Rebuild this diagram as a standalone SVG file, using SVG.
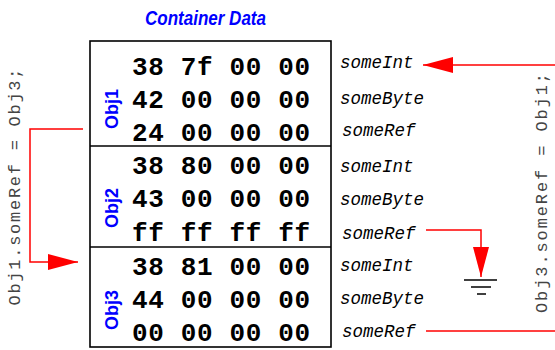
<svg xmlns="http://www.w3.org/2000/svg" width="555" height="350" viewBox="0 0 555 350">
  <defs>
    <style>
      .title { font-family: "Liberation Sans", Arial, sans-serif; font-weight: bold; font-style: italic; font-size: 21px; fill: #0000ff; }
      .hex { font-family: "Liberation Mono", "Courier New", monospace; font-weight: bold; font-size: 26px; fill: #000; }
      .obj { font-family: "Liberation Sans", Arial, sans-serif; font-weight: bold; font-size: 18px; fill: #0000ff; text-anchor: middle; }
      .field { font-family: "Liberation Mono", "Courier New", monospace; font-style: italic; font-size: 17.5px; fill: #000; }
      .code { font-family: "Liberation Mono", "Courier New", monospace; font-size: 17px; fill: #444; text-anchor: middle; }
      .box { fill: none; stroke: #000; stroke-width: 1.6; }
      .wire { fill: none; stroke: #ff0000; stroke-width: 1.5; }
      .ground { stroke: #000; stroke-width: 1.5; }
    </style>
    <marker id="arrow" viewBox="0 0 30 16" refX="30" refY="8" markerWidth="30" markerHeight="16" markerUnits="userSpaceOnUse" orient="auto">
      <path d="M0,0 L30,8 L0,16 Z" fill="#ff0000"/>
    </marker>
  </defs>

  <text class="title" x="145" y="25" textLength="121" lengthAdjust="spacingAndGlyphs">Container Data</text>

  <!-- memory block -->
  <g id="container">
    <rect class="box" x="90" y="41" width="241" height="306"/>
    <line class="box" x1="90" y1="146" x2="331" y2="146"/>
    <line class="box" x1="90" y1="247" x2="331" y2="247"/>
  </g>

  <g id="obj1">
    <text class="obj" transform="translate(118,109) rotate(-90)">Obj1</text>
    <text class="hex" x="132" y="75" textLength="178">38 7f 00 00</text>
    <text class="hex" x="132" y="108" textLength="178">42 00 00 00</text>
    <text class="hex" x="132" y="141" textLength="178">24 00 00 00</text>
    <text class="field" x="340" y="68">someInt</text>
    <text class="field" x="340" y="104">someByte</text>
    <text class="field" x="342" y="136">someRef</text>
  </g>

  <g id="obj2">
    <text class="obj" transform="translate(118,208) rotate(-90)">Obj2</text>
    <text class="hex" x="132" y="174" textLength="178">38 80 00 00</text>
    <text class="hex" x="132" y="207" textLength="178">43 00 00 00</text>
    <text class="hex" x="132" y="241" textLength="178">ff ff ff ff</text>
    <text class="field" x="340" y="172">someInt</text>
    <text class="field" x="340" y="205">someByte</text>
    <text class="field" x="342" y="239">someRef</text>
  </g>

  <g id="obj3">
    <text class="obj" transform="translate(118,310) rotate(-90)">Obj3</text>
    <text class="hex" x="132" y="275" textLength="178">38 81 00 00</text>
    <text class="hex" x="132" y="308" textLength="178">44 00 00 00</text>
    <text class="hex" x="132" y="341" textLength="178">00 00 00 00</text>
    <text class="field" x="340" y="271">someInt</text>
    <text class="field" x="340" y="304">someByte</text>
    <text class="field" x="342" y="337">someRef</text>
  </g>

  <!-- assignment captions -->
  <g id="assign-left">
    <text class="code" transform="translate(20,187) rotate(-90)" textLength="237" lengthAdjust="spacing">Obj1.someRef = Obj3;</text>
  </g>
  <g id="assign-right">
    <text class="code" transform="translate(547,193) rotate(-90)" textLength="240" lengthAdjust="spacing">Obj3.someRef = Obj1;</text>
  </g>

  <!-- null reference ground -->
  <g id="null">
    <line class="ground" x1="464" y1="280" x2="497" y2="280"/>
    <line class="ground" x1="471" y1="287" x2="491" y2="287"/>
    <line class="ground" x1="477" y1="294" x2="486" y2="294"/>
  </g>

  <g id="connectors">
    <polyline class="wire" points="83,129 30,129 30,262 78,262" marker-end="url(#arrow)"/>
    <polyline class="wire" points="555,65 423,65" marker-end="url(#arrow)"/>
    <polyline class="wire" points="426,230 481,230 481,277" marker-end="url(#arrow)"/>
    <polyline class="wire" points="426,331 555,331"/>
  </g>
</svg>
